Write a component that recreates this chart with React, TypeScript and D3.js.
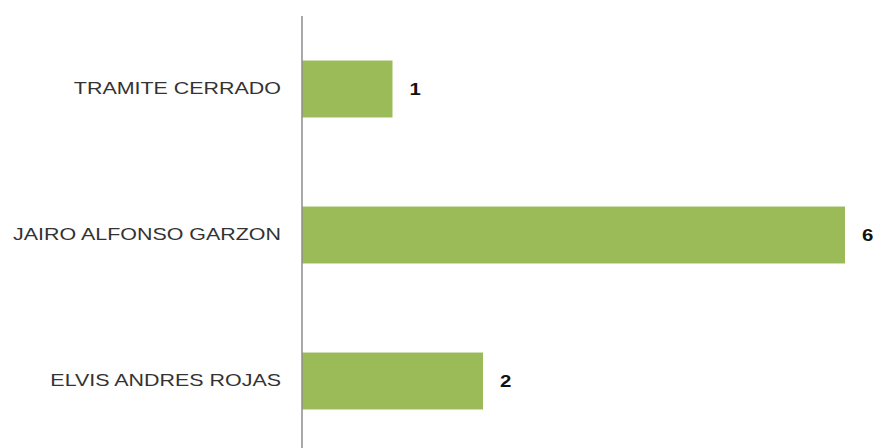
import React, { useEffect, useRef } from "react";
import * as d3 from "d3";

const categories = ["TRAMITE CERRADO", "JAIRO ALFONSO GARZON", "ELVIS ANDRES ROJAS"];
const values = [1, 6, 2];

const width = 878;
const height = 448;
const axisX = 302;

function draw(node: SVGSVGElement) {
  const svg = d3.select(node);
  svg.selectAll("*").remove();

  const x = d3.scaleLinear().domain([0, 6]).range([axisX, 845]);
  const y = d3
    .scaleBand<string>()
    .domain(categories)
    .range([16, 454])
    .paddingInner(0.61)
    .paddingOuter(0.305);

  const data = categories.map((c, i) => ({ name: c, value: values[i] }));

  svg
    .append("g")
    .selectAll("rect")
    .data(data)
    .enter()
    .append("rect")
    .attr("x", x(0))
    .attr("y", d => y(d.name)!)
    .attr("width", d => x(d.value) - x(0))
    .attr("height", y.bandwidth())
    .attr("fill", "#9bbb59");

  // category labels, stretched a bit like the source
  svg
    .append("g")
    .selectAll("text")
    .data(data)
    .enter()
    .append("text")
    .attr("transform", d => `translate(${axisX - 21},${y(d.name)! + y.bandwidth() / 2}) scale(1.34,1)`)
    .attr("text-anchor", "end")
    .attr("dominant-baseline", "central")
    .style("font-family", "Liberation Sans, Arial, sans-serif")
    .style("font-size", "16px")
    .attr("fill", "#333")
    .text(d => d.name);

  // value labels
  svg
    .append("g")
    .selectAll("text")
    .data(data)
    .enter()
    .append("text")
    .attr("transform", d => `translate(${x(d.value) + 17},${y(d.name)! + y.bandwidth() / 2}) scale(1.2,1)`)
    .attr("dominant-baseline", "central")
    .style("font-family", "Liberation Sans, Arial, sans-serif")
    .style("font-size", "17px")
    .style("font-weight", "bold")
    .attr("fill", "#111")
    .text(d => d.value);

  svg
    .append("line")
    .attr("x1", axisX)
    .attr("x2", axisX)
    .attr("y1", 16)
    .attr("y2", height)
    .attr("stroke", "#8c8c8c")
    .attr("stroke-width", 1.5);
}

export default function App() {
  const ref = useRef<SVGSVGElement>(null);

  useEffect(() => {
    document.body.style.margin = "0";
    if (ref.current) draw(ref.current);
  }, []);

  return <svg ref={ref} width={width} height={height} style={{ display: "block", background: "#fff" }} />;
}
